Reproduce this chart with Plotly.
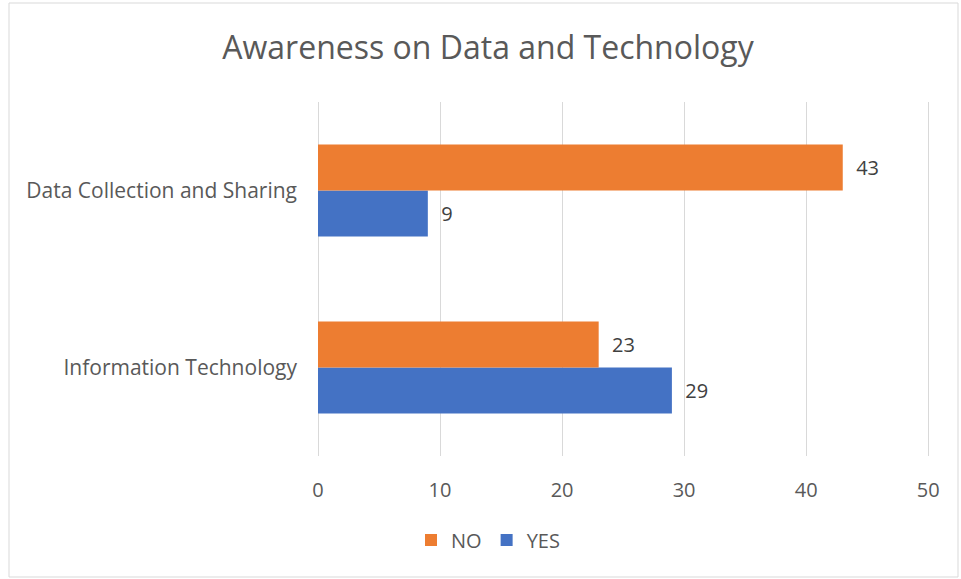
import plotly.graph_objects as go

categories = ["Information Technology", "Data Collection and Sharing"]
yes_values = [29, 9]
no_values = [23, 43]
title_text = "Awareness on Data and Technology"
tick_vals = [0, 10, 20, 30, 40, 50]

FONT = "Open Sans, sans-serif"
XMAX = 50.15
L, T, B = 318, 102, 123
W, H = 961, 579
pw = 610 * XMAX / 50
R = round(W - L - pw)
pw = W - L - R
ph = H - T - B

fig = go.Figure()
fig.add_trace(go.Bar(
    name="YES", y=categories, x=yes_values, orientation="h",
    marker=dict(color="#4472C4", line=dict(width=0)),
    text=yes_values, texttemplate="  %{x}", textposition="outside",
    textfont=dict(size=20, color="#404040", family=FONT), cliponaxis=False,
))
fig.add_trace(go.Bar(
    name="NO", y=categories, x=no_values, orientation="h",
    marker=dict(color="#ED7D31", line=dict(width=0)),
    text=no_values, texttemplate="  %{x}", textposition="outside",
    textfont=dict(size=20, color="#404040", family=FONT), cliponaxis=False,
))

def px_x(x):
    return (x - L) / pw

def px_y(y):
    return (H - B - y) / ph

fig.update_layout(
    width=W, height=H,
    margin=dict(l=L, r=R, t=T, b=B),
    paper_bgcolor="white", plot_bgcolor="white",
    barmode="group", bargap=0.48, bargroupgap=0,
    font=dict(family=FONT, color="#595959", size=20),
    title=dict(text=title_text, x=488 / W, xref="container", xanchor="center",
               y=1 - 48 / H, yref="container", yanchor="middle",
               font=dict(size=32, color="#595959", family=FONT)),
    xaxis=dict(range=[0, XMAX], tickvals=tick_vals, showgrid=True, gridcolor="#D9D9D9",
               gridwidth=1, zeroline=True, zerolinecolor="#D9D9D9", zerolinewidth=1,
               showline=False, ticks="",
               ticklabelstandoff=20, tickfont=dict(size=20, color="#595959")),
    yaxis=dict(showgrid=False, zeroline=False, showline=False, ticks="",
               ticklabelstandoff=20, tickfont=dict(size=21, color="#595959")),
    legend=dict(orientation="h", traceorder="reversed", x=px_x(488), xanchor="center",
                y=px_y(540), yanchor="middle", font=dict(size=20, color="#595959"),
                itemwidth=30),
    showlegend=True,
    shapes=[dict(type="rect", xref="paper", yref="paper",
                 x0=px_x(9), x1=px_x(958), y0=px_y(577), y1=px_y(3),
                 line=dict(color="#D9D9D9", width=1), layer="below")],
)

fig.write_html("out.html", config={"displayModeBar": False},
               post_script="document.body.style.margin='0';")
